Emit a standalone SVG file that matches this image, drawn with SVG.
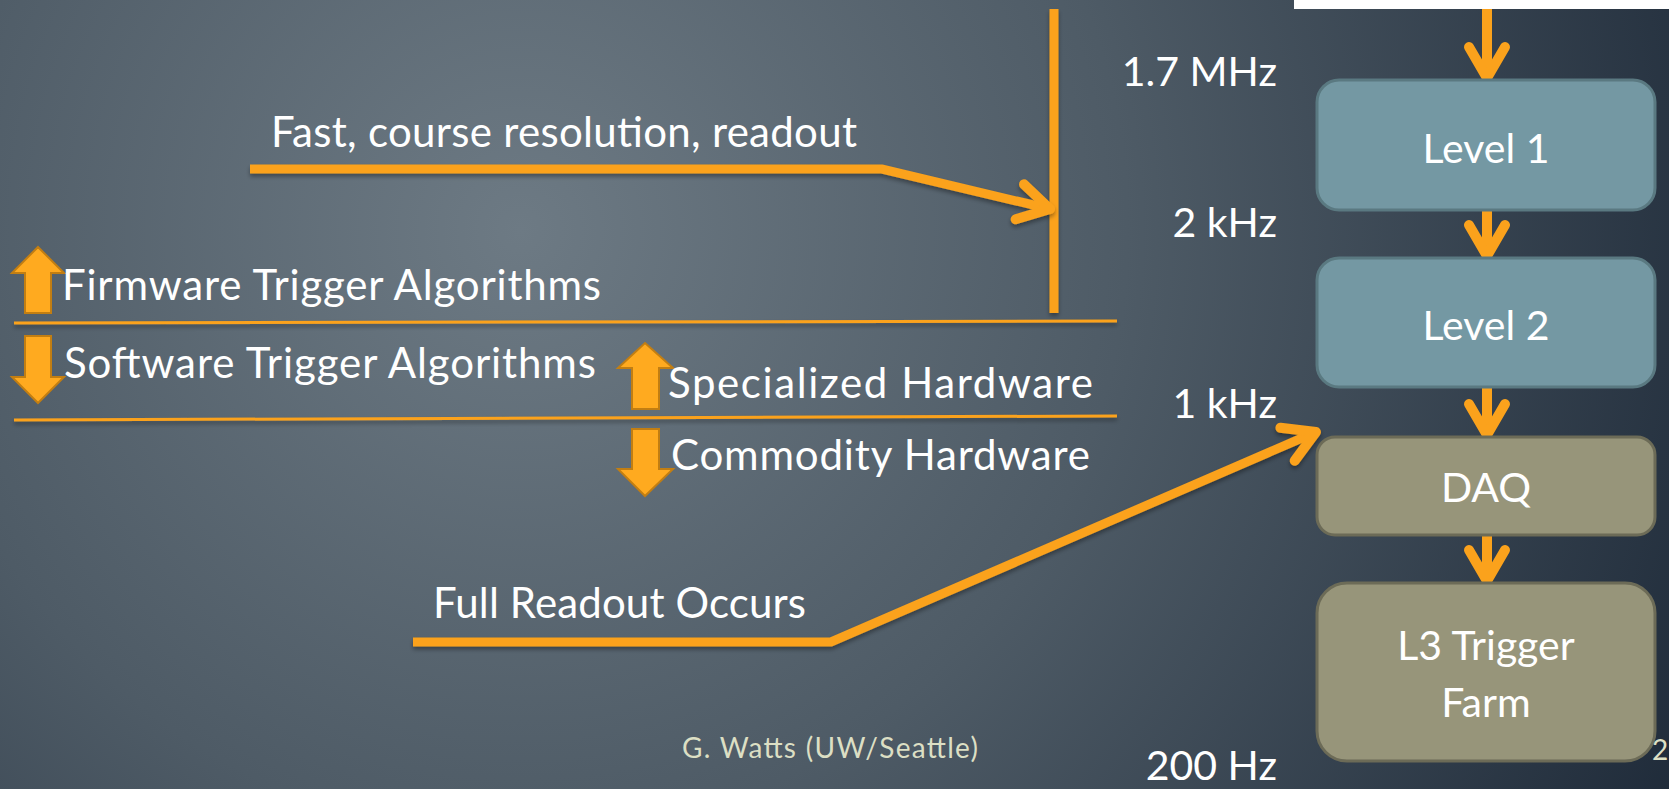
<svg xmlns="http://www.w3.org/2000/svg" width="1669" height="789" viewBox="0 0 1669 789">
  <defs>
    <radialGradient id="bg" gradientUnits="userSpaceOnUse" cx="520" cy="230" r="1350">
      <stop offset="0" stop-color="#6D7A84"/>
      <stop offset="0.45" stop-color="#4E5B66"/>
      <stop offset="1" stop-color="#1B2736"/>
    </radialGradient>
    <filter id="sh" filterUnits="userSpaceOnUse" x="0" y="0" width="1669" height="789">
      <feDropShadow dx="0" dy="3" stdDeviation="2" flood-color="#000" flood-opacity="0.35"/>
    </filter>
    <marker id="vhead" markerUnits="userSpaceOnUse" viewBox="-45 -30 60 60" markerWidth="60" markerHeight="60" refX="0" refY="0" orient="auto" overflow="visible">
      <path d="M -31 -18 L 0 0 L -31 18" fill="none" stroke="#FBA21C" stroke-width="10" stroke-linecap="round" stroke-linejoin="round"/>
    </marker>
  </defs>
  <style>
    text { font-family: "Lato", "Noto Sans", "Liberation Sans", sans-serif; fill: #FFFFFF; }
    .lbl { font-size: 42px; }
    .rate { font-size: 41px; text-anchor: end; }
    .box { font-size: 41px; text-anchor: middle; }
    .foot { font-size: 28px; fill: #DCDFC4; }
    .blue { fill: #7498A3; stroke: #5A7981; stroke-width: 3; }
    .olive { fill: #97957A; stroke: #6C6B57; stroke-width: 3; }
    .thick { fill: none; stroke: #FBA21C; stroke-width: 9; stroke-linejoin: miter; }
    .chain { fill: none; stroke: #FBA21C; stroke-width: 10; }
    .thin { fill: none; stroke: #FBA21C; stroke-width: 3; }
    .blk { fill: #FFAA1F; stroke: #C27E12; stroke-width: 2; }
  </style>

  <rect x="0" y="0" width="1669" height="789" fill="url(#bg)"/>
  <rect x="1294" y="0" width="375" height="9" fill="#FFFFFF"/>

  <g id="connectors">
    <line class="thin" x1="14" y1="323" x2="1117" y2="321" filter="url(#sh)"/>
    <line class="thin" x1="14" y1="420" x2="1117" y2="416" filter="url(#sh)"/>
    <line class="thick" x1="1054" y1="9" x2="1054" y2="313" filter="url(#sh)"/>
    <polyline class="thick" points="250,169 882,169 1050,209" marker-end="url(#vhead)" filter="url(#sh)"/>
    <polyline class="thick" points="413,642 831,642 1316,432" marker-end="url(#vhead)" filter="url(#sh)"/>
    <line class="chain" x1="1487" y1="9" x2="1487" y2="78" marker-end="url(#vhead)"/>
    <line class="chain" x1="1487" y1="210" x2="1487" y2="256" marker-end="url(#vhead)"/>
    <line class="chain" x1="1487" y1="387" x2="1487" y2="435" marker-end="url(#vhead)"/>
    <line class="chain" x1="1487" y1="535" x2="1487" y2="581" marker-end="url(#vhead)"/>
  </g>

  <g id="level1">
    <rect class="blue" x="1317" y="80" width="338" height="130" rx="22"/>
    <text class="box" x="1486" y="163">Level 1</text>
  </g>
  <g id="level2">
    <rect class="blue" x="1317" y="258" width="338" height="129" rx="22"/>
    <text class="box" x="1486" y="340">Level 2</text>
  </g>
  <g id="daq">
    <rect class="olive" x="1317" y="437" width="338" height="98" rx="18"/>
    <text class="box" x="1486" y="502">DAQ</text>
  </g>
  <g id="l3farm">
    <rect class="olive" x="1317" y="583" width="338" height="178" rx="30"/>
    <text class="box" x="1486" y="660">L3 Trigger</text>
    <text class="box" x="1486" y="717">Farm</text>
  </g>

  <g id="rates">
    <text class="rate" x="1277" y="86">1.7 MHz</text>
    <text class="rate" x="1277" y="237">2 kHz</text>
    <text class="rate" x="1277" y="418">1 kHz</text>
    <text class="rate" x="1277" y="780">200 Hz</text>
  </g>

  <g id="fast-label">
    <text class="lbl" x="271" y="147" textLength="586">Fast, course resolution, readout</text>
  </g>

  <g id="firmware">
    <polygon class="blk" points="38,247 64,273 51,273 51,313 25,313 25,273 12,273"/>
    <text class="lbl" x="62" y="300" textLength="539">Firmware Trigger Algorithms</text>
  </g>
  <g id="software">
    <polygon class="blk" points="25,336 51,336 51,377 64,377 38,403 12,377 25,377"/>
    <text class="lbl" x="64" y="378" textLength="532">Software Trigger Algorithms</text>
  </g>
  <g id="specialized">
    <polygon class="blk" points="645,343 673,368 659,368 659,409 632,409 632,368 618,368"/>
    <text class="lbl" x="668" y="398" textLength="425">Specialized Hardware</text>
  </g>
  <g id="commodity">
    <polygon class="blk" points="632,429 659,429 659,469 673,469 645,496 618,469 632,469"/>
    <text class="lbl" x="671" y="470" textLength="419">Commodity Hardware</text>
  </g>
  <g id="full-readout">
    <text class="lbl" x="433" y="618" textLength="373">Full Readout Occurs</text>
  </g>

  <g id="footer">
    <text class="foot" x="682" y="758" textLength="296">G. Watts (UW/Seattle)</text>
    <text class="foot" x="1652" y="760">2</text>
  </g>
</svg>
